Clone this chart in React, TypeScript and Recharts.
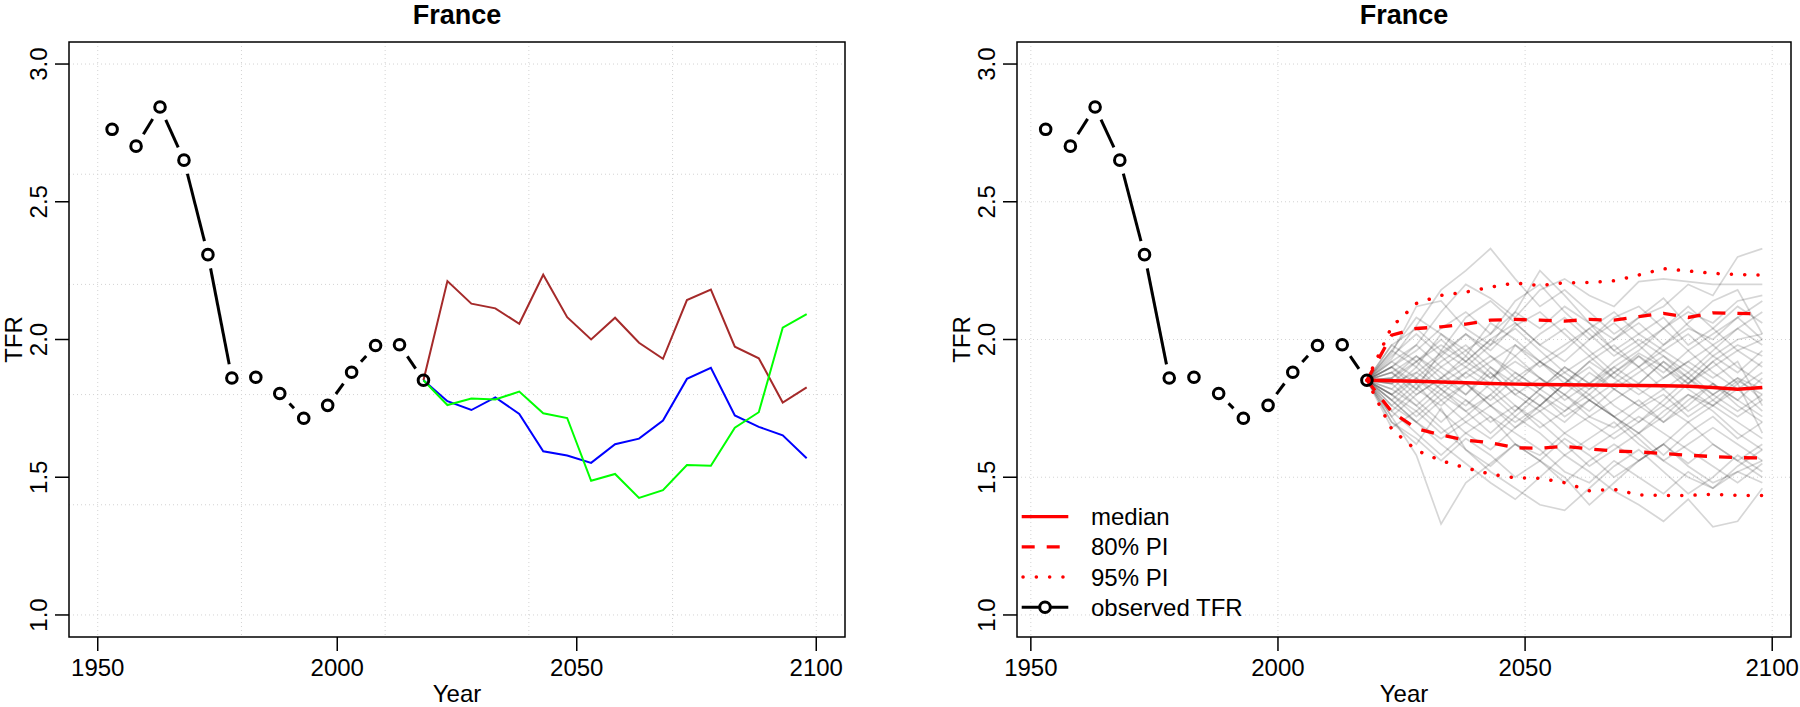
import React from 'react';
import { LineChart, Line, XAxis, YAxis, CartesianGrid, ReferenceArea, Legend } from 'recharts';

const FONT = '"Liberation Sans", Arial, Helvetica, sans-serif';

// ---------- data ----------
const OBS_YEARS = [1953, 1958, 1963, 1968, 1973, 1978, 1983, 1988, 1993, 1998, 2003, 2008, 2013, 2018];
const OBS_TFR = [2.763, 2.702, 2.844, 2.651, 2.308, 1.860, 1.863, 1.804, 1.714, 1.761, 1.881, 1.978, 1.981, 1.852];

const PROJ_YEARS = [2018, 2023, 2028, 2033, 2038, 2043, 2048, 2053, 2058, 2063, 2068, 2073, 2078, 2083, 2088, 2093, 2098];

const TRAJ_BROWN = [1.852, 2.212, 2.130, 2.113, 2.057, 2.235, 2.081, 2.000, 2.079, 1.988, 1.930, 2.143, 2.181, 1.974, 1.932, 1.771, 1.826];
const TRAJ_BLUE = [1.852, 1.776, 1.744, 1.790, 1.730, 1.594, 1.579, 1.552, 1.620, 1.640, 1.706, 1.857, 1.897, 1.724, 1.683, 1.652, 1.569];
const TRAJ_GREEN = [1.852, 1.762, 1.786, 1.782, 1.811, 1.732, 1.715, 1.487, 1.512, 1.425, 1.453, 1.544, 1.542, 1.680, 1.736, 2.043, 2.092];

const MEDIAN = [1.852, 1.850, 1.848, 1.846, 1.843, 1.840, 1.838, 1.837, 1.836, 1.835, 1.834, 1.833, 1.832, 1.830, 1.826, 1.819, 1.826];
const PI80_HIGH = [1.852, 2.016, 2.040, 2.046, 2.056, 2.070, 2.073, 2.070, 2.067, 2.073, 2.070, 2.083, 2.095, 2.080, 2.097, 2.095, 2.093];
const PI80_LOW = [1.852, 1.738, 1.677, 1.653, 1.635, 1.625, 1.607, 1.605, 1.612, 1.603, 1.595, 1.592, 1.586, 1.580, 1.575, 1.571, 1.570];
const PI95_HIGH = [1.852, 2.046, 2.131, 2.160, 2.172, 2.190, 2.205, 2.196, 2.206, 2.207, 2.213, 2.234, 2.257, 2.249, 2.240, 2.236, 2.234];
const PI95_LOW = [1.852, 1.675, 1.598, 1.560, 1.534, 1.511, 1.498, 1.496, 1.480, 1.451, 1.456, 1.436, 1.434, 1.434, 1.438, 1.434, 1.434];

// simulated trajectories, 2023..2098 (each starts from the 2018 observed value)
const TRAJECTORIES: number[][] = [
  [1.93, 2.05, 2.18, 2.25, 2.33, 2.22, 2.12, 2.18, 2.10, 2.02, 2.08, 2.15, 2.05, 1.98, 2.04, 2.10],
  [1.72, 1.58, 1.33, 1.48, 1.55, 1.62, 1.58, 1.66, 1.72, 1.68, 1.75, 1.80, 1.72, 1.78, 1.85, 1.80],
  [1.80, 1.88, 1.95, 2.02, 1.96, 2.05, 2.10, 2.02, 1.94, 2.00, 2.08, 2.12, 2.20, 2.16, 2.30, 2.33],
  [1.78, 1.70, 1.62, 1.55, 1.48, 1.42, 1.50, 1.58, 1.52, 1.45, 1.40, 1.34, 1.42, 1.32, 1.34, 1.46],
  [1.90, 1.98, 2.10, 2.20, 2.15, 2.08, 2.18, 2.22, 2.16, 2.12, 2.21, 2.22, 2.21, 2.20, 2.20, 2.20],
  [1.95, 2.12, 2.14, 2.04, 1.98, 2.10, 2.25, 2.16, 2.06, 1.96, 1.90, 1.98, 2.06, 2.14, 2.18, 2.02],
  [1.70, 1.62, 1.75, 1.60, 1.52, 1.46, 1.40, 1.38, 1.46, 1.54, 1.60, 1.52, 1.44, 1.50, 1.58, 1.52],
  [1.88, 1.82, 1.96, 1.90, 1.84, 1.98, 1.92, 1.86, 1.80, 1.88, 1.95, 1.90, 1.84, 1.92, 1.98, 1.94],
  [1.82, 1.76, 1.84, 1.78, 1.70, 1.76, 1.68, 1.74, 1.80, 1.72, 1.66, 1.74, 1.80, 1.76, 1.70, 1.64],
  [1.96, 1.90, 2.02, 1.94, 2.06, 2.00, 1.92, 1.98, 2.04, 1.96, 2.02, 2.08, 1.98, 2.04, 2.12, 2.06],
  [1.76, 1.84, 1.74, 1.66, 1.72, 1.62, 1.56, 1.64, 1.58, 1.50, 1.56, 1.62, 1.55, 1.62, 1.56, 1.50],
  [1.86, 1.94, 1.88, 1.80, 1.90, 1.84, 1.92, 1.86, 1.78, 1.84, 1.90, 1.82, 1.88, 1.80, 1.86, 1.82],
  [1.80, 1.72, 1.80, 1.88, 1.82, 1.74, 1.82, 1.90, 1.84, 1.76, 1.70, 1.78, 1.86, 1.78, 1.72, 1.78],
  [1.98, 2.04, 1.96, 2.08, 2.14, 2.06, 1.98, 1.92, 2.00, 2.08, 2.12, 2.04, 2.10, 2.06, 2.14, 2.16],
  [1.74, 1.66, 1.58, 1.66, 1.60, 1.68, 1.74, 1.66, 1.60, 1.66, 1.72, 1.66, 1.60, 1.54, 1.48, 1.55],
  [1.90, 1.84, 1.92, 1.98, 1.90, 1.82, 1.76, 1.84, 1.92, 1.98, 1.90, 1.96, 2.02, 1.94, 1.88, 1.96],
  [1.84, 1.92, 2.00, 1.92, 1.86, 1.94, 1.86, 1.80, 1.74, 1.82, 1.76, 1.70, 1.78, 1.84, 1.78, 1.72],
  [1.78, 1.86, 1.78, 1.70, 1.64, 1.72, 1.80, 1.74, 1.82, 1.88, 1.82, 1.76, 1.70, 1.76, 1.82, 1.88],
  [1.92, 1.98, 1.90, 1.96, 1.88, 1.80, 1.86, 1.78, 1.84, 1.90, 1.84, 1.92, 1.86, 1.94, 2.00, 2.02],
  [1.68, 1.74, 1.66, 1.72, 1.80, 1.72, 1.66, 1.58, 1.64, 1.70, 1.62, 1.56, 1.62, 1.68, 1.62, 1.56],
  [1.88, 1.80, 1.86, 1.92, 2.00, 2.06, 1.98, 2.04, 1.96, 1.88, 1.94, 1.86, 1.92, 1.98, 1.90, 1.84],
  [1.82, 1.90, 1.82, 1.76, 1.84, 1.76, 1.70, 1.62, 1.54, 1.60, 1.66, 1.58, 1.66, 1.72, 1.64, 1.70],
  [1.94, 2.02, 1.94, 1.86, 1.92, 1.98, 1.90, 1.96, 2.04, 2.10, 2.02, 1.96, 1.90, 1.84, 1.78, 1.86],
  [1.76, 1.70, 1.78, 1.84, 1.78, 1.86, 1.92, 1.84, 1.90, 1.82, 1.88, 1.94, 1.86, 1.80, 1.74, 1.80],
  [1.86, 1.78, 1.70, 1.78, 1.72, 1.66, 1.60, 1.52, 1.48, 1.56, 1.50, 1.44, 1.52, 1.46, 1.54, 1.60],
  [1.90, 1.96, 2.04, 2.10, 2.02, 2.14, 2.20, 2.10, 2.02, 1.94, 2.00, 1.94, 1.88, 1.96, 2.04, 1.98],
  [1.80, 1.86, 1.80, 1.74, 1.80, 1.88, 1.82, 1.88, 1.94, 1.86, 1.80, 1.86, 1.92, 1.86, 1.92, 1.76],
  [1.84, 1.76, 1.68, 1.60, 1.54, 1.62, 1.56, 1.50, 1.40, 1.48, 1.56, 1.62, 1.70, 1.62, 1.56, 1.62],
  [1.98, 1.92, 1.84, 1.90, 1.98, 2.04, 1.96, 1.88, 1.82, 1.90, 1.96, 2.04, 2.12, 2.04, 1.96, 1.90],
  [1.72, 1.80, 1.86, 1.80, 1.88, 1.80, 1.74, 1.80, 1.72, 1.78, 1.84, 1.92, 1.84, 1.90, 1.96, 2.00],
  [1.88, 1.94, 1.86, 1.94, 1.86, 1.92, 1.86, 1.80, 1.88, 1.82, 1.76, 1.82, 1.74, 1.80, 1.86, 1.78],
  [1.80, 1.74, 1.82, 1.74, 1.66, 1.74, 1.82, 1.76, 1.70, 1.64, 1.70, 1.76, 1.84, 1.92, 1.84, 1.66],
  [1.92, 1.86, 1.94, 2.02, 1.94, 1.88, 1.82, 1.90, 1.84, 1.92, 1.98, 1.90, 1.82, 1.76, 1.84, 1.92],
  [1.78, 1.70, 1.64, 1.70, 1.76, 1.68, 1.76, 1.70, 1.78, 1.72, 1.64, 1.56, 1.50, 1.46, 1.52, 1.48],
  [1.86, 1.92, 1.98, 1.92, 2.00, 1.94, 2.02, 2.08, 2.00, 2.06, 1.98, 2.04, 1.96, 2.02, 2.08, 2.14],
  [1.74, 1.82, 1.76, 1.84, 1.76, 1.82, 1.76, 1.84, 1.78, 1.72, 1.78, 1.70, 1.76, 1.84, 1.76, 1.70],
  [1.90, 1.82, 1.90, 1.84, 1.76, 1.70, 1.76, 1.84, 1.92, 1.86, 1.94, 1.88, 1.96, 1.88, 1.82, 1.74],
  [1.84, 1.88, 1.82, 1.88, 1.94, 1.86, 1.80, 1.72, 1.78, 1.72, 1.66, 1.72, 1.80, 1.74, 1.66, 1.60],
  [1.96, 2.08, 2.02, 1.96, 2.02, 2.10, 2.04, 2.12, 2.06, 2.00, 2.06, 1.98, 2.04, 2.00, 2.08, 2.00],
  [1.70, 1.64, 1.56, 1.64, 1.58, 1.50, 1.56, 1.48, 1.56, 1.62, 1.56, 1.62, 1.54, 1.48, 1.52, 1.56],
];

const TITLE = 'France';
const X_LABEL = 'Year';
const Y_LABEL = 'TFR';
const X_TICKS = [1950, 2000, 2050, 2100];
const Y_TICKS = [1.0, 1.5, 2.0, 2.5, 3.0];
const LEFT_GRID_X = [1950, 1980, 2010, 2040, 2070, 2100];
const LEFT_GRID_Y = [1.0, 1.4, 1.8, 2.2, 2.6, 3.0];
const RIGHT_GRID_X = [1950, 2000, 2050, 2100];
const RIGHT_GRID_Y = [1.0, 1.5, 2.0, 2.5, 3.0];
const LEGEND_ITEMS = [
  { label: 'median', kind: 'solid' },
  { label: '80% PI', kind: 'dashed' },
  { label: '95% PI', kind: 'dotted' },
  { label: 'observed TFR', kind: 'observed' },
];

// ---------- layout / style ----------
const CHART_W = 900;
const CHART_H = 707;
const Y_DOMAIN: [number, number] = [0.92, 3.08];
const LEFT_X_DOMAIN: [number, number] = [1944, 2106];
const RIGHT_X_DOMAIN: [number, number] = [1947.2, 2103.8];
const RED = '#FF0000';
const GAP = 14;
const DASH80 = '13 12';
const DOT95 = '0.1 13.2';
const OBS_R = 5.3;
const OBS_SW = 3;

// ---------- build rows ----------
const ALL_YEARS = Array.from(new Set([...OBS_YEARS, ...PROJ_YEARS])).sort((a, b) => a - b);
const rows = ALL_YEARS.map((year) => {
  const row: Record<string, number | undefined> = { year };
  const oi = OBS_YEARS.indexOf(year);
  if (oi >= 0) row.obs = OBS_TFR[oi];
  const pi = PROJ_YEARS.indexOf(year);
  if (pi >= 0) {
    row.brown = TRAJ_BROWN[pi];
    row.blue = TRAJ_BLUE[pi];
    row.green = TRAJ_GREEN[pi];
    row.median = MEDIAN[pi];
    row.u80 = PI80_HIGH[pi];
    row.l80 = PI80_LOW[pi];
    row.u95 = PI95_HIGH[pi];
    row.l95 = PI95_LOW[pi];
    TRAJECTORIES.forEach((t, k) => {
      row[`t${k}`] = pi === 0 ? OBS_TFR[OBS_TFR.length - 1] : t[pi - 1];
    });
  }
  return row;
});

// ---------- renderers ----------
function renderObsDot(props: any) {
  const { cx, cy, index, points } = props;
  const key = `od-${index}`;
  if (cx == null || cy == null || Number.isNaN(cy)) return <g key={key} />;
  let seg: React.ReactNode = null;
  const next = points && points[index + 1];
  if (next && next.y != null && !Number.isNaN(next.y)) {
    const dx = next.x - cx;
    const dy = next.y - cy;
    const len = Math.hypot(dx, dy);
    if (len > 2 * GAP + 4) {
      const ux = dx / len;
      const uy = dy / len;
      seg = (
        <line
          x1={cx + ux * GAP}
          y1={cy + uy * GAP}
          x2={next.x - ux * GAP}
          y2={next.y - uy * GAP}
          stroke="#000"
          strokeWidth={3}
        />
      );
    }
  }
  return (
    <g key={key}>
      {seg}
      <circle cx={cx} cy={cy} r={OBS_R} fill="none" stroke="#000" strokeWidth={OBS_SW} />
    </g>
  );
}

function YTick(props: any) {
  const { x, y, payload } = props;
  return (
    <text
      x={x}
      y={y}
      transform={`rotate(-90 ${x} ${y})`}
      textAnchor="middle"
      fontSize={24}
      fill="#000"
      fontFamily={FONT}
    >
      {Number(payload.value).toFixed(1)}
    </text>
  );
}

function XTick(props: any) {
  const { x, y, payload } = props;
  return (
    <text x={x} y={y} dy="0.71em" textAnchor="middle" fontSize={24} fill="#000" fontFamily={FONT}>
      {payload.value}
    </text>
  );
}

function XLabel(props: any) {
  const vb = props.viewBox;
  return (
    <text x={vb.x + vb.width / 2} y={vb.y + 65} textAnchor="middle" fontSize={24} fill="#000" fontFamily={FONT}>
      {X_LABEL}
    </text>
  );
}

function YLabel(props: any) {
  const vb = props.viewBox;
  const x = vb.x + vb.width - 47;
  const y = vb.y + vb.height / 2;
  return (
    <text x={x} y={y} transform={`rotate(-90 ${x} ${y})`} textAnchor="middle" fontSize={24} fill="#000" fontFamily={FONT}>
      {Y_LABEL}
    </text>
  );
}

function LegendContent() {
  return (
    <svg width={320} height={130} style={{ display: 'block', overflow: 'visible' }}>
      {LEGEND_ITEMS.map((it, i) => {
        const y = 16.7 + i * 30.2;
        let mark: React.ReactNode;
        if (it.kind === 'solid') mark = <line x1={21.7} x2={68.3} y1={y} y2={y} stroke={RED} strokeWidth={3.3} />;
        else if (it.kind === 'dashed')
          mark = <line x1={21.7} x2={68.3} y1={y} y2={y} stroke={RED} strokeWidth={3.3} strokeDasharray={DASH80} />;
        else if (it.kind === 'dotted')
          mark = (
            <line x1={23} x2={68.3} y1={y} y2={y} stroke={RED} strokeWidth={3.5} strokeLinecap="round" strokeDasharray={DOT95} />
          );
        else
          mark = (
            <g>
              <line x1={21.7} x2={68.3} y1={y} y2={y} stroke="#000" strokeWidth={3} />
              <circle cx={45} cy={y} r={OBS_R} fill="#fff" stroke="#000" strokeWidth={OBS_SW} />
            </g>
          );
        return (
          <g key={it.label}>
            {mark}
            <text x={91} y={y + 8.5} fontSize={24} fill="#000" fontFamily={FONT}>
              {it.label}
            </text>
          </g>
        );
      })}
    </svg>
  );
}

function Title({ center }: { center: number }) {
  return (
    <div
      style={{
        position: 'absolute',
        left: center,
        top: 0,
        transform: 'translateX(-50%)',
        fontFamily: FONT,
        fontWeight: 'bold',
        fontSize: 27,
        lineHeight: '30px',
        whiteSpace: 'nowrap',
        color: '#000',
      }}
    >
      {TITLE}
    </div>
  );
}

function Panel({ side }: { side: 'left' | 'right' }) {
  const isLeft = side === 'left';
  const yAxisW = isLeft ? 69 : 117;
  const marginRight = isLeft ? 55 : 9;
  const xDomain = isLeft ? LEFT_X_DOMAIN : RIGHT_X_DOMAIN;
  const plotCenter = yAxisW + (CHART_W - yAxisW - marginRight) / 2;
  return (
    <div style={{ position: 'absolute', left: isLeft ? 0 : 900, top: 0, width: CHART_W, height: CHART_H }}>
      <LineChart
        width={CHART_W}
        height={CHART_H}
        data={rows}
        margin={{ top: 42, right: marginRight, bottom: 0, left: 0 }}
        style={{ fontFamily: FONT }}
      >
        <CartesianGrid
          stroke="#D3D3D3"
          strokeDasharray="1 3"
          verticalValues={isLeft ? LEFT_GRID_X : RIGHT_GRID_X}
          horizontalValues={isLeft ? LEFT_GRID_Y : RIGHT_GRID_Y}
        />
        <XAxis
          dataKey="year"
          type="number"
          domain={xDomain}
          ticks={X_TICKS}
          allowDataOverflow
          height={70}
          axisLine={false}
          tickLine={{ stroke: '#000', strokeWidth: 1.5 }}
          tickSize={14}
          tickMargin={8}
          tick={<XTick />}
          interval={0}
          label={<XLabel />}
        />
        <YAxis
          type="number"
          domain={Y_DOMAIN}
          ticks={Y_TICKS}
          allowDataOverflow
          width={yAxisW}
          axisLine={false}
          tickLine={{ stroke: '#000', strokeWidth: 1.5 }}
          tickSize={14}
          tickMargin={8}
          tick={<YTick />}
          interval={0}
          label={<YLabel />}
        />
        {isLeft ? (
          [
            <Line key="brown" dataKey="brown" stroke="#A52A2A" strokeWidth={2} dot={false} activeDot={false} isAnimationActive={false} />,
            <Line key="blue" dataKey="blue" stroke="#0000FF" strokeWidth={2} dot={false} activeDot={false} isAnimationActive={false} />,
            <Line key="green" dataKey="green" stroke="#00FF00" strokeWidth={2} dot={false} activeDot={false} isAnimationActive={false} />,
          ]
        ) : (
          [
            ...TRAJECTORIES.map((_, k) => (
              <Line
                key={`t${k}`}
                dataKey={`t${k}`}
                stroke="#000"
                strokeOpacity={0.16}
                strokeWidth={1.7}
                dot={false}
                activeDot={false}
                isAnimationActive={false}
              />
            )),
            <Line key="u95" dataKey="u95" stroke={RED} strokeWidth={3.5} strokeLinecap="round" strokeDasharray={DOT95} dot={false} activeDot={false} isAnimationActive={false} />,
            <Line key="l95" dataKey="l95" stroke={RED} strokeWidth={3.5} strokeLinecap="round" strokeDasharray={DOT95} dot={false} activeDot={false} isAnimationActive={false} />,
            <Line key="u80" dataKey="u80" stroke={RED} strokeWidth={3.3} strokeDasharray={DASH80} dot={false} activeDot={false} isAnimationActive={false} />,
            <Line key="l80" dataKey="l80" stroke={RED} strokeWidth={3.3} strokeDasharray={DASH80} dot={false} activeDot={false} isAnimationActive={false} />,
            <Line key="median" dataKey="median" stroke={RED} strokeWidth={3.5} dot={false} activeDot={false} isAnimationActive={false} />,
          ]
        )}
        <Line dataKey="obs" stroke="none" dot={renderObsDot} activeDot={false} isAnimationActive={false} />
        <ReferenceArea
          x1={xDomain[0]}
          x2={xDomain[1]}
          y1={Y_DOMAIN[0]}
          y2={Y_DOMAIN[1]}
          fill="none"
          fillOpacity={0}
          stroke="#000"
          strokeWidth={1.5}
          ifOverflow="visible"
        />
        {!isLeft && (
          <Legend
            layout="horizontal"
            verticalAlign="middle"
            align="center"
            content={<LegendContent />}
            wrapperStyle={{ left: 100, top: 500, width: 320, height: 130 }}
          />
        )}
      </LineChart>
      <Title center={plotCenter} />
    </div>
  );
}

export default function App() {
  return (
    <div style={{ position: 'absolute', left: 0, top: 0, width: 1800, height: 707, background: '#fff', overflow: 'hidden' }}>
      <Panel side="left" />
      <Panel side="right" />
    </div>
  );
}
